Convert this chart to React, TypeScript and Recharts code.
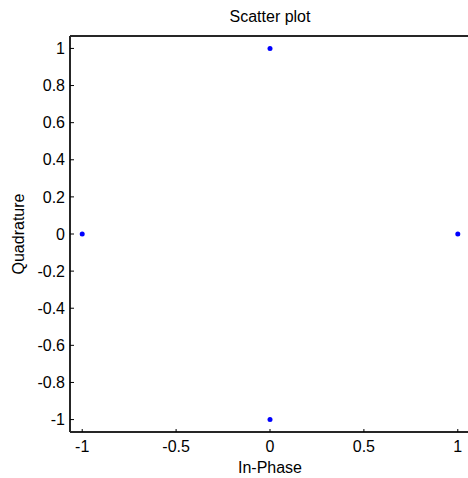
import React from "react";
import { ScatterChart, Scatter, XAxis, YAxis } from "recharts";

// constellation points
const inPhase = [1, 0, -1, 0];
const quadrature = [0, 1, 0, -1];

const xTicks = [-1, -0.5, 0, 0.5, 1];
const yTicks = [-1, -0.8, -0.6, -0.4, -0.2, 0, 0.2, 0.4, 0.6, 0.8, 1];

const xDomain: [number, number] = [-1.065, 1.065];
const yDomain: [number, number] = [-1.067, 1.067];

const AXIS = "#262626";
const FONT = 16;
const TICK = 3;
const X_GAP = 9;
const Y_GAP = 5;

const Dot = (p: any) => <circle cx={p.cx} cy={p.cy} r={2.5} fill="#0000ff" />;

// inward MATLAB-style ticks: the line is drawn by hand, the label next to it
const BottomTick = (p: any) => {
  const base = p.y - X_GAP;
  return (
    <g>
      <line x1={p.x} x2={p.x} y1={base} y2={base - TICK} stroke="#000" />
      <text x={p.x} y={p.y} dy="0.71em" textAnchor="middle" fill="#000" fontSize={FONT}>
        {p.payload.value}
      </text>
    </g>
  );
};

const TopTick = (p: any) => (
  <line x1={p.x} x2={p.x} y1={p.y} y2={p.y + TICK} stroke="#000" />
);

const LeftTick = (p: any) => {
  const base = p.x + Y_GAP;
  return (
    <g>
      <line x1={base} x2={base + TICK + 1} y1={p.y} y2={p.y} stroke="#000" />
      <text x={p.x} y={p.y} dy="0.355em" textAnchor="end" fill="#000" fontSize={FONT}>
        {p.payload.value}
      </text>
    </g>
  );
};

const RightTick = (p: any) => (
  <line x1={p.x} x2={p.x - TICK} y1={p.y} y2={p.y} stroke="#000" />
);

export default function App() {
  const rows = inPhase.map((x, i) => ({ x, y: quadrature[i] }));

  return (
    <div
      style={{
        position: "absolute",
        left: 0,
        top: 0,
        width: 468,
        height: 478,
        overflow: "hidden",
        background: "#fff",
        fontFamily: '"Liberation Sans", Arial, sans-serif',
      }}
    >
      <ScatterChart
        width={472}
        height={478}
        margin={{ top: 0, right: 0, bottom: 0, left: 0 }}
      >
        <XAxis
          xAxisId="bottom"
          dataKey="x"
          type="number"
          domain={xDomain}
          ticks={xTicks}
          height={46}
          tickSize={0}
          tickMargin={X_GAP}
          tickLine={false}
          axisLine={{ stroke: AXIS, strokeWidth: 2 }}
          tick={BottomTick}
          label={{
            value: "In-Phase",
            position: "insideBottom",
            offset: 5,
            fill: "#000",
            fontSize: FONT,
          }}
        />
        <XAxis
          xAxisId="top"
          orientation="top"
          type="number"
          domain={xDomain}
          ticks={xTicks}
          height={36}
          tickSize={0}
          tickMargin={0}
          tickLine={false}
          axisLine={{ stroke: AXIS, strokeWidth: 2 }}
          tick={TopTick}
          label={{
            value: "Scatter plot",
            position: "insideTop",
            offset: 11,
            fill: "#000",
            fontSize: FONT,
          }}
        />
        <YAxis
          yAxisId="left"
          dataKey="y"
          type="number"
          domain={yDomain}
          ticks={yTicks}
          width={70}
          tickSize={0}
          tickMargin={Y_GAP}
          tickLine={false}
          axisLine={{ stroke: AXIS, strokeWidth: 2 }}
          tick={LeftTick}
          label={{
            value: "Quadrature",
            position: "insideLeft",
            angle: -90,
            offset: 18,
            fill: "#000",
            fontSize: FONT,
            style: { textAnchor: "middle" },
          }}
        />
        <YAxis
          yAxisId="right"
          orientation="right"
          type="number"
          domain={yDomain}
          ticks={yTicks}
          width={2}
          tickSize={0}
          tickMargin={0}
          tickLine={false}
          axisLine={{ stroke: AXIS, strokeWidth: 2 }}
          tick={RightTick}
        />
        <Scatter
          xAxisId="bottom"
          yAxisId="left"
          data={rows}
          shape={Dot}
          isAnimationActive={false}
        />
      </ScatterChart>
    </div>
  );
}
